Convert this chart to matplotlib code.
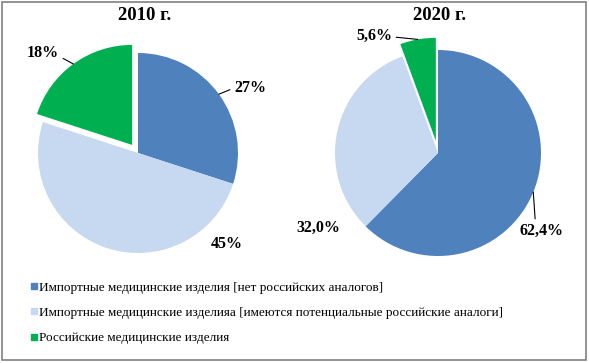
import matplotlib.pyplot as plt
from matplotlib.lines import Line2D
from matplotlib.patches import Rectangle
import numpy as np

plt.rcParams['font.family'] = ['Liberation Serif', 'DejaVu Serif']

# данные
years = ['2010 г.', '2020 г.']
categories = ['Импортные медицинские изделия [нет российских аналогов]',
              'Импортные медицинские изделияа [имеются потенциальные российские аналоги]',
              'Российские медицинские изделия']
values_2010 = [27, 45, 18]
values_2020 = [62.4, 32.0, 5.6]
labels_2010 = ['27%', '45%', '18%']
labels_2020 = ['62,4%', '32,0%', '5,6%']

colors = ['#4F81BD', '#C6D9F1', '#00B050']

W, H = 589, 363
fig = plt.figure(figsize=(W / 100, H / 100), dpi=100)
ax = fig.add_axes([0, 0, 1, 1])

def Y(y):
    return H - y

# центр, радиус, вынос сектора (доля радиуса), позиции подписей,
# точка подписи, к которой идёт выноска (None - без выноски)
pies = [
    dict(vals=values_2010, labs=labels_2010, center=(138, 153), r=100,
         explode=[0, 0, 0.1], title_x=145,
         text_pos=[(250, 88), (227, 244), (43, 53)],
         leader=[(0, 0.5), None, (1, 0.3)]),
    dict(vals=values_2020, labs=labels_2020, center=(438, 153), r=103,
         explode=[0, 0, 0.12], title_x=440,
         text_pos=[(542, 231), (318, 228), (374, 36)],
         leader=[(0.35, 1), None, (1, 0.45)]),
]

for p, yr in zip(pies, years):
    cx, cy = p['center']
    wedges, _ = ax.pie(p['vals'], colors=colors, startangle=90, counterclock=False,
                       center=(cx, Y(cy)), radius=p['r'],
                       explode=[e * p['r'] for e in p['explode']],
                       wedgeprops=dict(linewidth=0))
    for w, lab, (tx, ty), lead in zip(wedges, p['labs'], p['text_pos'], p['leader']):
        mid = np.deg2rad((w.theta1 + w.theta2) / 2)
        ex, ey = w.center
        edge = (ex + w.r * np.cos(mid), ey + w.r * np.sin(mid))
        if lead:
            ax.annotate(lab, xy=edge, xytext=(tx, Y(ty)), ha='center', va='center',
                        fontsize=11.5, fontweight='bold',
                        arrowprops=dict(arrowstyle='-', color='black', lw=0.8,
                                        shrinkA=1, shrinkB=0, relpos=lead))
        else:
            ax.text(tx, Y(ty), lab, ha='center', va='center', fontsize=11.5, fontweight='bold')
    ax.text(p['title_x'], Y(15), yr, ha='center', va='center', fontsize=13.5, fontweight='bold')

ax.set_xlim(0, W)
ax.set_ylim(0, H)
ax.axis('off')

handles = [Line2D([], [], marker='s', linestyle='none', markersize=5,
                  markerfacecolor=c, markeredgecolor=c) for c in colors]
fig.legend(handles, categories, loc='upper left', bbox_to_anchor=(24 / W, 1 - 275 / H),
           frameon=False, fontsize=9.5, handlelength=0.5, handletextpad=0.15,
           labelspacing=0.98, borderpad=0)

fig.patches.append(Rectangle((2 / W, 1 - 360 / H), 584 / W, 358 / H,
                             transform=fig.transFigure, fill=False,
                             edgecolor='#808080', linewidth=1.2))

fig.savefig('out.png', dpi=100)
